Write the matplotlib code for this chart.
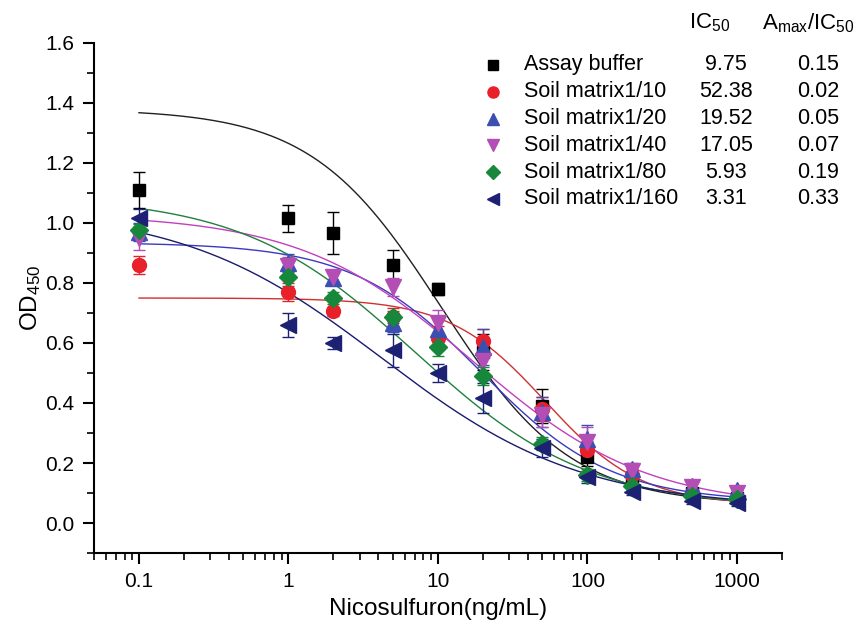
# ========== Librerias ==========
import numpy as np
import matplotlib
matplotlib.use('Agg')
from matplotlib import pyplot as plt
from matplotlib.ticker import FixedLocator, FixedFormatter, LogLocator, MultipleLocator, NullFormatter

plt.rcParams['font.family'] = ['Liberation Sans', 'DejaVu Sans']
plt.rcParams['mathtext.default'] = 'regular'

# ========== Datos ==========
conc = [0.1, 1, 2, 5, 10, 20, 50, 100, 200, 500, 1000]

names = ['Assay buffer', 'Soil matrix1/10', 'Soil matrix1/20',
         'Soil matrix1/40', 'Soil matrix1/80', 'Soil matrix1/160']
ic50_txt = ['9.75', '52.38', '19.52', '17.05', '5.93', '3.31']
amax_txt = ['0.15', '0.02', '0.05', '0.07', '0.19', '0.33']

od_buffer = [1.11, 1.015, 0.965, 0.86, 0.78, 0.57, 0.39, 0.22, 0.14, 0.10, 0.085]
od_10 = [0.86, 0.77, 0.705, 0.685, 0.615, 0.605, 0.38, 0.245, 0.16, 0.10, 0.085]
od_20 = [0.97, 0.865, 0.815, 0.665, 0.645, 0.585, 0.37, 0.28, 0.18, 0.125, 0.11]
od_40 = [0.95, 0.855, 0.82, 0.787, 0.665, 0.54, 0.36, 0.27, 0.175, 0.12, 0.10]
od_80 = [0.975, 0.82, 0.75, 0.685, 0.585, 0.49, 0.265, 0.16, 0.125, 0.09, 0.08]
od_160 = [1.015, 0.66, 0.60, 0.575, 0.50, 0.415, 0.25, 0.155, 0.105, 0.075, 0.068]

err_buffer = [0.06, 0.045, 0.07, 0.05, 0.02, 0.06, 0.057, 0.03, 0.02, 0.01, 0.01]
err_10 = [0.03, 0.03, 0.015, 0.03, 0.04, 0.04, 0.04, 0.03, 0.02, 0.01, 0.01]
err_20 = [0.03, 0.03, 0.02, 0.03, 0.04, 0.06, 0.05, 0.047, 0.02, 0.015, 0.01]
err_40 = [0.04, 0.03, 0.02, 0.03, 0.046, 0.04, 0.04, 0.05, 0.02, 0.015, 0.01]
err_80 = [0.02, 0.03, 0.02, 0.02, 0.03, 0.03, 0.02, 0.02, 0.015, 0.01, 0.01]
err_160 = [0.03, 0.04, 0.02, 0.055, 0.03, 0.05, 0.03, 0.02, 0.01, 0.01, 0.01]

# parametros del ajuste logistico (4PL)
fit_top = [1.38, 0.75, 0.935, 1.03, 1.09, 1.05]
fit_bottom = [0.06, 0.06, 0.07, 0.05, 0.05, 0.05]
fit_c = [10.5, 52.38, 19.52, 17.05, 7.0, 4.2]
fit_slope = [1.0, 1.35, 1.0, 0.75, 0.75, 0.65]

od_all = [od_buffer, od_10, od_20, od_40, od_80, od_160]
err_all = [err_buffer, err_10, err_20, err_40, err_80, err_160]
markers = ['s', 'o', '^', 'v', 'D', '<']
msizes = [9, 10, 11, 11, 9, 11]
colors = ['#000000', '#e8202a', '#3b4fb2', '#b44db4', '#17873c', '#1c2173']
line_colors = ['#202020', '#d03030', '#3a3ac0', '#c040c0', '#208040', '#1a1a6e']

# ========== Grafica ==========
fig = plt.figure(figsize=(8.56, 6.31), dpi=100)
ax = fig.add_axes([0.1098, 0.1236, 0.8037, 0.8083])

xfit = np.logspace(-1, 3, 300)
for i in range(len(names)):
    yfit = fit_bottom[i] + (fit_top[i] - fit_bottom[i]) / (1 + (xfit / fit_c[i]) ** fit_slope[i])
    ax.plot(xfit, yfit, color=line_colors[i], lw=1.0, zorder=2)

for i in range(len(names)):
    ax.errorbar(conc, od_all[i], yerr=err_all[i], fmt=markers[i], ms=msizes[i],
                color=colors[i], mec=colors[i], ecolor=colors[i], elinewidth=1.0,
                capsize=4, capthick=1.0, zorder=3)

ax.set_xscale('log')
ax.set_xlim(0.05, 2000)
ax.set_ylim(-0.1, 1.6)

ax.xaxis.set_major_locator(FixedLocator([0.1, 1, 10, 100, 1000]))
ax.xaxis.set_major_formatter(FixedFormatter(['0.1', '1', '10', '100', '1000']))
ax.xaxis.set_minor_locator(LogLocator(base=10, subs=np.arange(2, 10)))
ax.xaxis.set_minor_formatter(NullFormatter())
ax.set_yticks(np.arange(0, 1.61, 0.2))
ax.set_yticklabels(['%.1f' % v for v in np.arange(0, 1.61, 0.2)])
ax.yaxis.set_minor_locator(MultipleLocator(0.1))

ax.spines['top'].set_visible(False)
ax.spines['right'].set_visible(False)
ax.spines['left'].set_linewidth(1.5)
ax.spines['bottom'].set_linewidth(1.5)
ax.tick_params(which='major', direction='out', length=8, width=1.5, labelsize=15, pad=6)
ax.tick_params(which='minor', direction='out', length=5, width=1.2)

ax.set_xlabel('Nicosulfuron(ng/mL)', fontsize=17.5, labelpad=5)
ax.set_ylabel('OD$_{450}$', fontsize=17.5, labelpad=2)

# ---------- leyenda con tabla ----------
row_y0 = 1 - (65 - 43) / 510.0
row_dy = 26.8 / 510.0
fx = lambda px: (px - 94) / 688.0
ax.text(fx(710), 1 + (43 - 23) / 510.0, 'IC$_{50}$', transform=ax.transAxes,
        ha='center', va='center', fontsize=16)
ax.text(fx(808), 1 + (43 - 23) / 510.0, 'A$_{max}$/IC$_{50}$', transform=ax.transAxes,
        ha='center', va='center', fontsize=16)
for i in range(len(names)):
    yy = row_y0 - i * row_dy
    ax.plot([fx(493)], [yy], marker=markers[i], ms=msizes[i] * 0.8, color=colors[i],
            ls='none', transform=ax.transAxes, clip_on=False)
    ax.text(fx(524), yy, names[i], transform=ax.transAxes, ha='left', va='center', fontsize=15.5)
    ax.text(fx(726), yy, ic50_txt[i], transform=ax.transAxes, ha='center', va='center', fontsize=15.5)
    ax.text(fx(818), yy, amax_txt[i], transform=ax.transAxes, ha='center', va='center', fontsize=15.5)

plt.savefig('out.png', dpi=100)
